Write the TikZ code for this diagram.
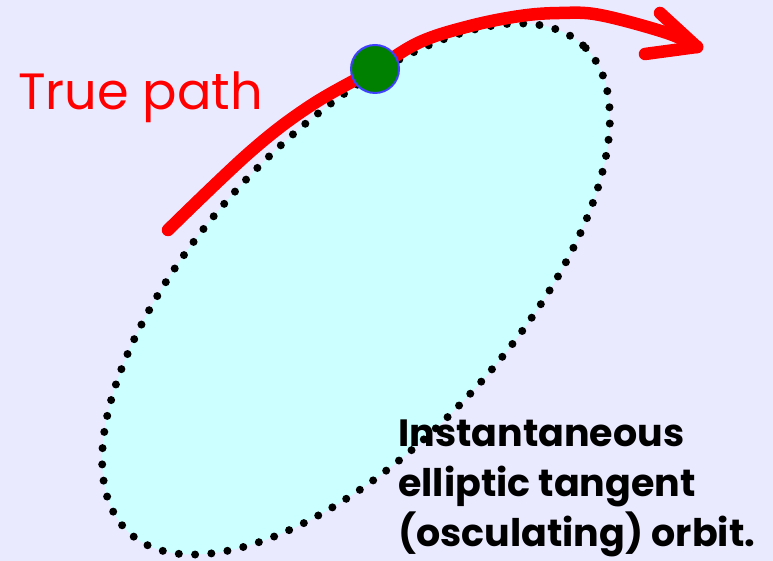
\documentclass[tikz,border=0pt]{standalone}
\usepackage{fontspec}
\setmainfont{Poppins}
\usetikzlibrary{shapes.geometric}
\definecolor{bgcol}{RGB}{234,234,255}
\definecolor{orbitfill}{RGB}{204,255,255}
\definecolor{pathred}{RGB}{255,0,0}
\definecolor{dotgreen}{RGB}{0,128,0}
\definecolor{dotblue}{RGB}{64,64,255}
\tikzset{
  orbitshape/.style={ellipse, inner sep=0pt, minimum width=666pt, minimum height=310pt,
    fill=orbitfill, draw=black, line width=8pt, line cap=round,
    dash pattern=on 0pt off 16.3pt},
  truepath/.style={draw=pathred, line width=12.5pt, line cap=round, line join=round},
  bodydot/.style={circle, fill=dotgreen, draw=dotblue, line width=2pt, minimum size=48pt, inner sep=0pt},
  redlabel/.style={text=pathred, font=\fontsize{51}{60}\selectfont, inner sep=0pt, anchor=base west},
  blacklabel/.style={text=black, font=\bfseries\fontsize{38}{50}\selectfont, inner sep=0pt, anchor=base west}
}
\begin{document}
\begin{tikzpicture}[x=1pt,y=1pt]
\fill[bgcol] (0,0) rectangle (773,561);
\useasboundingbox (0,0) rectangle (773,561);
\node[orbitshape, rotate=47] (orbit) at (356,272) {};
\coordinate (tip) at (697,514);
\draw[truepath] plot[smooth, tension=0.6] coordinates {(168,331) (250,409) (310,455) (375,492) (420,519) (470,535) (520,545) (560,548) (600,546) (667,528) (697,514)};
\draw[truepath] (tip) -- (660,548);
\draw[truepath] (tip) -- (645,507);
\node[bodydot] (body) at (375,492) {};
\node[redlabel] (truelabel) at (18,451) {True path};
\node[blacklabel] (line1) at (398,114) {Instantaneous};
\node[blacklabel] (line2) at (398,64) {elliptic tangent};
\node[blacklabel] (line3) at (398,14) {(osculating) orbit.};
\end{tikzpicture}
\end{document}
